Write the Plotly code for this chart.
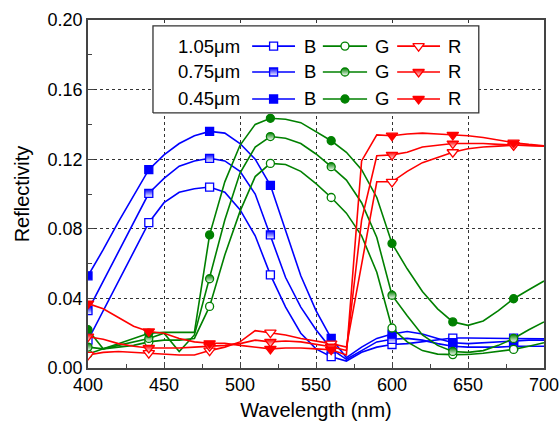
import plotly.graph_objects as go

# Sampling grid (nm)
wavelength = [400, 410, 420, 430, 440, 450, 460, 470, 480, 490, 500,
              510, 520, 530, 540, 550, 560, 570, 580, 590, 600,
              610, 620, 630, 640, 650, 660, 670, 680, 690, 700]

# Blue pixel reflectivity for three pillar heights
B_105 = [0.016, 0.033, 0.050, 0.067, 0.0835, 0.095, 0.101, 0.103, 0.104, 0.101, 0.091,
         0.076, 0.0535, 0.035, 0.020, 0.011, 0.0065, 0.004, 0.009, 0.012, 0.0135,
         0.014, 0.015, 0.016, 0.0172, 0.0172, 0.0172, 0.0172, 0.0172, 0.017, 0.0168]
B_075 = [0.033, 0.050, 0.067, 0.084, 0.1004, 0.109, 0.116, 0.119, 0.1205, 0.119, 0.113,
         0.100, 0.0765, 0.052, 0.035, 0.022, 0.011, 0.005, 0.010, 0.015, 0.0165,
         0.017, 0.016, 0.014, 0.0125, 0.012, 0.012, 0.012, 0.0125, 0.0125, 0.0125]
B_045 = [0.053, 0.068, 0.084, 0.099, 0.114, 0.1225, 0.129, 0.1335, 0.136, 0.135, 0.129,
         0.120, 0.105, 0.079, 0.053, 0.033, 0.017, 0.006, 0.012, 0.017, 0.0195,
         0.021, 0.0195, 0.017, 0.0145, 0.014, 0.0145, 0.015, 0.0155, 0.016, 0.016]

# Green pixel reflectivity
G_105 = [0.008, 0.011, 0.012, 0.013, 0.015, 0.016, 0.016, 0.017, 0.0354, 0.065, 0.090,
         0.110, 0.1176, 0.117, 0.113, 0.106, 0.098, 0.089, 0.076, 0.055, 0.023,
         0.015, 0.010, 0.008, 0.0077, 0.0078, 0.0085, 0.0095, 0.0107, 0.0125, 0.0145]
G_075 = [0.012, 0.011, 0.013, 0.015, 0.017, 0.020, 0.0095, 0.019, 0.0513, 0.085, 0.112,
         0.127, 0.133, 0.132, 0.129, 0.123, 0.1157, 0.108, 0.095, 0.075, 0.0418,
         0.030, 0.019, 0.013, 0.0095, 0.009, 0.010, 0.013, 0.017, 0.022, 0.0265]
G_045 = [0.022, 0.011, 0.014, 0.017, 0.020, 0.0205, 0.0205, 0.0205, 0.0765, 0.107, 0.128,
         0.140, 0.1435, 0.143, 0.141, 0.136, 0.1306, 0.124, 0.114, 0.098, 0.0716,
         0.057, 0.044, 0.034, 0.0265, 0.0245, 0.027, 0.033, 0.0398, 0.045, 0.050]

# Red pixel reflectivity
R_105 = [0.0075, 0.009, 0.0095, 0.009, 0.0085, 0.008, 0.0075, 0.0075, 0.010, 0.012, 0.015,
         0.0215, 0.0203, 0.019, 0.017, 0.0155, 0.014, 0.012, 0.060, 0.107, 0.107,
         0.113, 0.118, 0.121, 0.124, 0.126, 0.127, 0.1275, 0.128, 0.128, 0.1276]
R_075 = [0.018, 0.0165, 0.014, 0.0125, 0.0115, 0.0115, 0.0115, 0.012, 0.0125, 0.013, 0.014,
         0.016, 0.015, 0.0155, 0.015, 0.0135, 0.0122, 0.010, 0.085, 0.122, 0.1225,
         0.124, 0.127, 0.128, 0.129, 0.129, 0.129, 0.1285, 0.128, 0.1278, 0.1275]
R_045 = [0.037, 0.034, 0.029, 0.024, 0.021, 0.020, 0.017, 0.015, 0.0142, 0.0142, 0.013,
         0.012, 0.011, 0.0115, 0.0115, 0.011, 0.0105, 0.0075, 0.119, 0.134, 0.1335,
         0.1345, 0.135, 0.1345, 0.134, 0.1335, 0.1325, 0.131, 0.1295, 0.1285, 0.1277]

heights = ["1.05μm", "0.75μm", "0.45μm"]
channels = ["B", "G", "R"]
tick_x = [400, 450, 500, 550, 600, 650, 700]
tick_y = [0.00, 0.04, 0.08, 0.12, 0.16, 0.20]
tick_y_text = ["0.00", "0.04", "0.08", "0.12", "0.16", "0.20"]

COLORS = {"B": "#0000ff", "G": "#008000", "R": "#ff0000"}
SYMBOLS = {"B": "square", "G": "circle", "R": "triangle-down"}
SIZES = {"B": 8, "G": 8, "R": 10}
FILL = {"1.05μm": "open", "0.75μm": "half", "0.45μm": "full"}

data = {
    ("B", "1.05μm"): B_105, ("B", "0.75μm"): B_075, ("B", "0.45μm"): B_045,
    ("G", "1.05μm"): G_105, ("G", "0.75μm"): G_075, ("G", "0.45μm"): G_045,
    ("R", "1.05μm"): R_105, ("R", "0.75μm"): R_075, ("R", "0.45μm"): R_045,
}


def marker_style(ch, h, size):
    col = COLORS[ch]
    m = dict(symbol=SYMBOLS[ch], size=size, line=dict(color=col, width=1.3))
    kind = FILL[h]
    if kind == "open":
        m["color"] = "white"
    elif kind == "half":
        # vertical gradient: marker colour on top, white underneath
        m["color"] = col
        m["gradient"] = dict(type="vertical", color="white")
    else:
        m["color"] = col
    return m


fig = go.Figure()

for ch in channels:
    for h in heights:
        y = data[(ch, h)]
        fig.add_trace(go.Scatter(
            x=wavelength, y=y, mode="lines",
            line=dict(color=COLORS[ch], width=1.6),
            showlegend=False, hoverinfo="skip"))
        fig.add_trace(go.Scatter(
            x=wavelength[::4], y=y[::4], mode="markers",
            marker=marker_style(ch, h, SIZES[ch]),
            showlegend=False))

# Key: framed box and glyph rows drawn on a unit overlay axis
bx0, bx1, by0, by1 = 0.1425, 0.857, 0.733, 0.983
fig.add_trace(go.Scatter(
    x=[bx0, bx1, bx1, bx0, bx0], y=[by0, by0, by1, by1, by0],
    xaxis="x2", yaxis="y2", mode="lines", fill="toself", fillcolor="white",
    line=dict(color="#333333", width=1.3), showlegend=False, hoverinfo="skip"))

row_y = [0.925, 0.8506, 0.773]
seg = {"B": (0.360, 0.454), "G": (0.515, 0.612), "R": (0.678, 0.772)}
label_x = {"B": 0.470, "G": 0.624, "R": 0.784}
for h, ry in zip(heights, row_y):
    fig.add_annotation(x=0.338, y=ry, xref="x domain", yref="y domain",
                       text=h, showarrow=False, xanchor="right", yanchor="middle",
                       font=dict(size=18.5, color="black"))
    for ch in channels:
        x0, x1 = seg[ch]
        fig.add_trace(go.Scatter(
            x=[x0, x1], y=[ry, ry], xaxis="x2", yaxis="y2", mode="lines",
            line=dict(color=COLORS[ch], width=1.6), showlegend=False, hoverinfo="skip"))
        fig.add_trace(go.Scatter(
            x=[(x0 + x1) / 2], y=[ry], xaxis="x2", yaxis="y2", mode="markers",
            marker=marker_style(ch, h, SIZES[ch]), showlegend=False, hoverinfo="skip"))
        fig.add_annotation(x=label_x[ch], y=ry, xref="x domain", yref="y domain",
                           text=ch, showarrow=False, xanchor="left", yanchor="middle",
                           font=dict(size=18.5, color="black"))

axis_common = dict(
    showline=True, linecolor="#444444", linewidth=1.5, mirror=True,
    ticks="inside", ticklen=6, tickwidth=1.2, tickcolor="#444444",
    showgrid=True, gridcolor="#333333", gridwidth=1, griddash="dot",
    zeroline=False, tickfont=dict(size=18, color="black"), automargin=False,
)

fig.update_layout(
    width=560, height=424,
    margin=dict(l=88, r=16, t=20, b=56),
    paper_bgcolor="white", plot_bgcolor="white",
    font=dict(family="Liberation Sans, Arial, sans-serif", color="black"),
    xaxis=dict(range=[400, 700], tickvals=tick_x,
               title=dict(text="Wavelength (nm)", font=dict(size=20), standoff=9),
               minor=dict(ticks="inside", ticklen=4, dtick=25, tick0=400,
                          tickcolor="#444444", showgrid=False),
               **axis_common),
    yaxis=dict(range=[0, 0.2], tickvals=tick_y, ticktext=tick_y_text,
               title=dict(text="Reflectivity", font=dict(size=20), standoff=13),
               minor=dict(ticks="inside", ticklen=4, dtick=0.02, tick0=0,
                          tickcolor="#444444", showgrid=False),
               **axis_common),
    xaxis2=dict(overlaying="x", range=[0, 1], visible=False),
    yaxis2=dict(overlaying="y", range=[0, 1], visible=False),
)

fig.write_html("out.html")
